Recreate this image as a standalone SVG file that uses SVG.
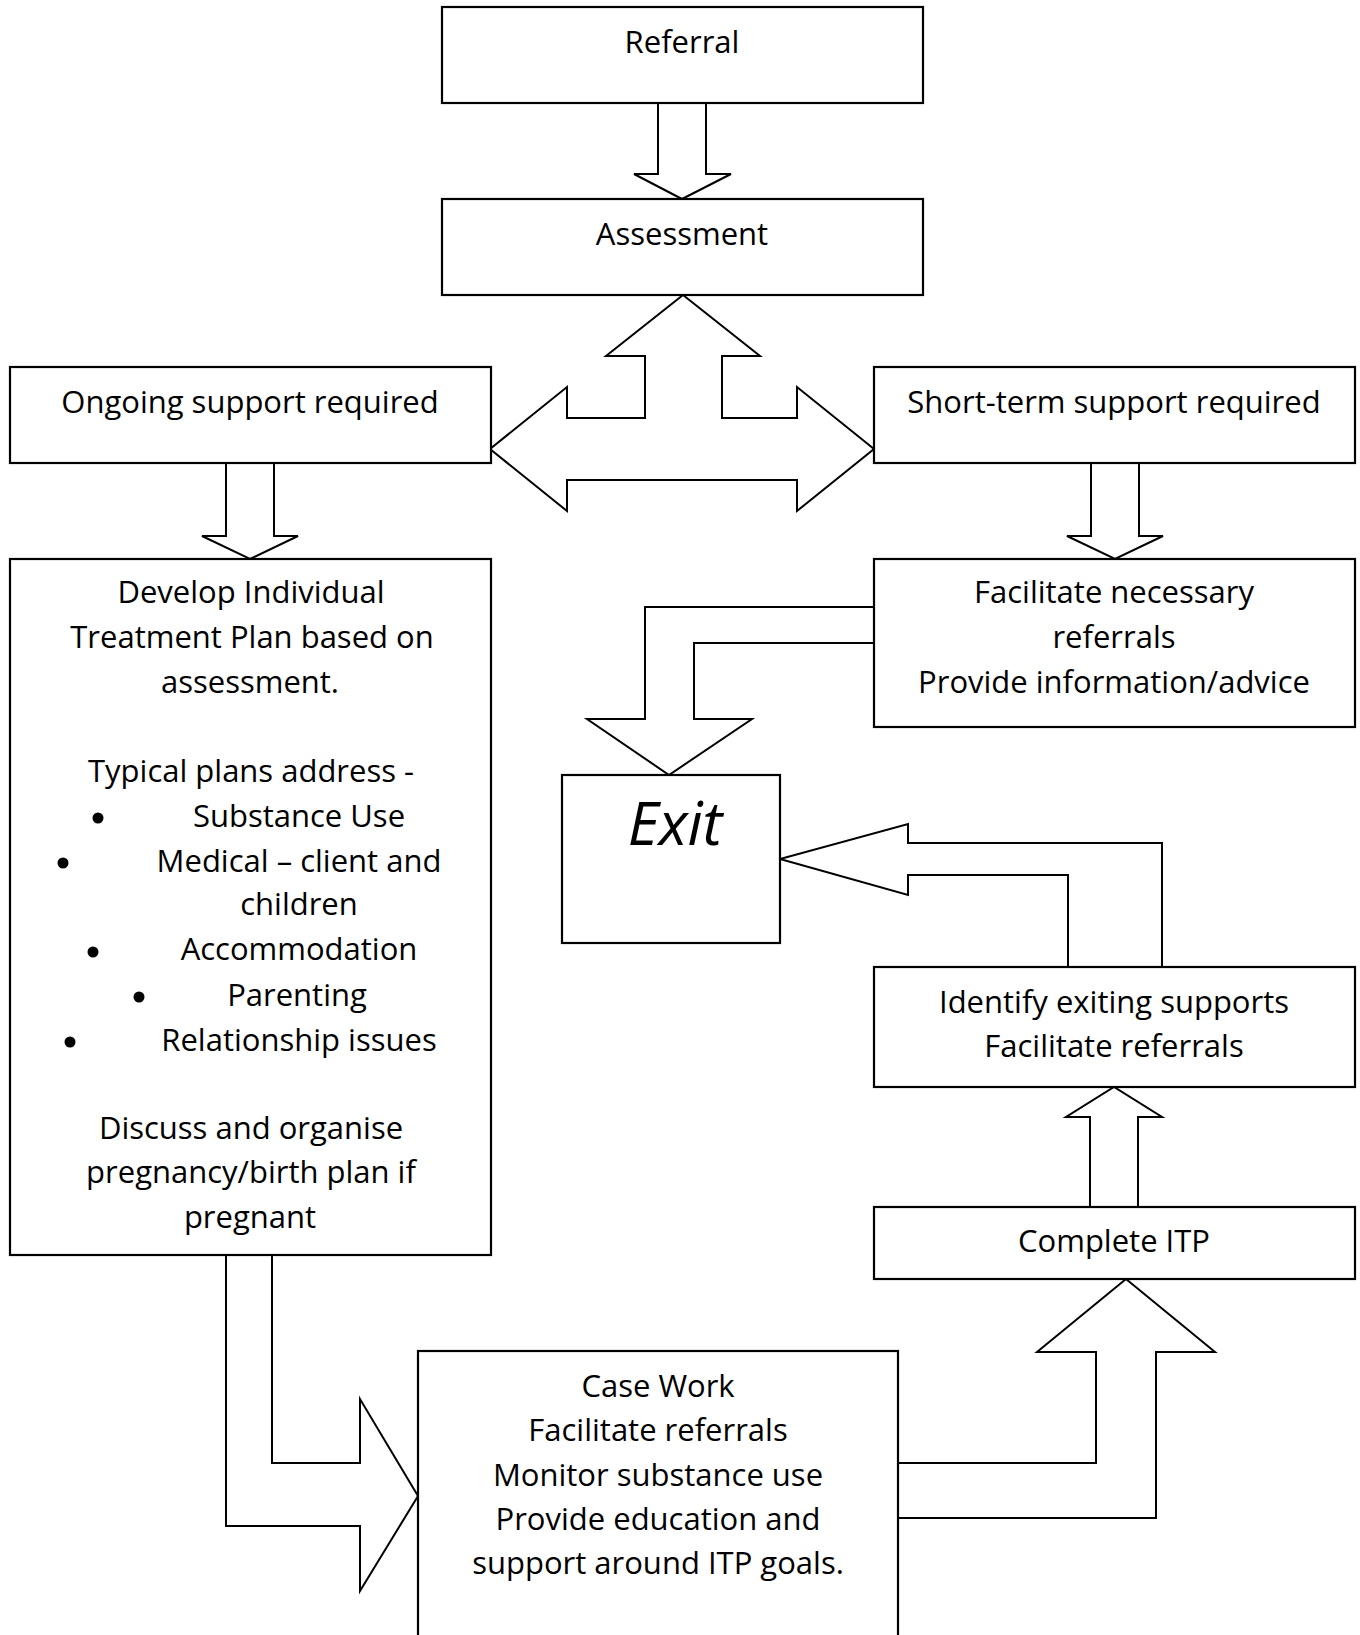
<svg xmlns="http://www.w3.org/2000/svg" width="1360" height="1635" viewBox="0 0 1360 1635">
<style>
.box{fill:#fff;stroke:#000;stroke-width:2.2}
.arr{fill:#fff;stroke:#000;stroke-width:2;stroke-linejoin:miter}
text{font-family:"Open Sans","Noto Sans",sans-serif;font-size:31px;fill:#000;text-anchor:middle}
.exit{font-size:60px;font-style:italic}
</style>
<rect width="1360" height="1635" fill="#fff"/>
<g id="connectors">
<polygon class="arr" points="658,103 706,103 706,174 731,174 682,199 634,174 658,174"/>
<polygon class="arr" points="683,295 760,356 722,356 722,418 797,418 797,387 874,449 797,511 797,480 567,480 567,511 490,449 567,387 567,418 645,418 645,356 606,356"/>
<polygon class="arr" points="226,463 274,463 274,536 298,536 250,559 202,536 226,536"/>
<polygon class="arr" points="1091,463 1139,463 1139,536 1163,536 1115,559 1067,536 1091,536"/>
<polygon class="arr" points="874,607 645,607 645,719 587,719 669,775 752,719 694,719 694,643 874,643"/>
<polygon class="arr" points="1068,967 1068,875 908,875 908,895 780,859 908,824 908,843 1162,843 1162,967"/>
<polygon class="arr" points="1090,1207 1090,1117 1066,1117 1114,1087 1162,1117 1138,1117 1138,1207"/>
<polygon class="arr" points="226,1255 226,1526 360,1526 360,1591 418,1496 360,1399 360,1463 272,1463 272,1255"/>
<polygon class="arr" points="898,1463 1096,1463 1096,1352 1037,1352 1126,1279 1215,1352 1156,1352 1156,1518 898,1518"/>
</g>
<g id="referral">
<rect class="box" x="442" y="7" width="481" height="96"/>
<text x="682" y="53">Referral</text>
</g>
<g id="assessment">
<rect class="box" x="442" y="199" width="481" height="96"/>
<text x="682" y="245">Assessment</text>
</g>
<g id="ongoing">
<rect class="box" x="10" y="367" width="481" height="96"/>
<text x="250" y="413">Ongoing support required</text>
</g>
<g id="shortterm">
<rect class="box" x="874" y="367" width="481" height="96"/>
<text x="1114" y="413">Short-term support required</text>
</g>
<g id="develop">
<rect class="box" x="10" y="559" width="481" height="696"/>
<text x="251" y="603">Develop Individual</text>
<text x="252" y="648">Treatment Plan based on</text>
<text x="250" y="693">assessment.</text>
<text x="251" y="782">Typical plans address -</text>
<circle cx="98" cy="818" r="5.5"/>
<text x="299" y="827">Substance Use</text>
<circle cx="63" cy="863" r="5.5"/>
<text x="299" y="872">Medical – client and</text>
<text x="299" y="915">children</text>
<circle cx="93" cy="952" r="5.5"/>
<text x="299" y="960">Accommodation</text>
<circle cx="139" cy="997" r="5.5"/>
<text x="297" y="1006">Parenting</text>
<circle cx="70" cy="1042" r="5.5"/>
<text x="299" y="1051">Relationship issues</text>
<text x="251" y="1139">Discuss and organise</text>
<text x="251" y="1183">pregnancy/birth plan if</text>
<text x="250" y="1228">pregnant</text>
</g>
<g id="facilitate">
<rect class="box" x="874" y="559" width="481" height="168"/>
<text x="1114" y="603">Facilitate necessary</text>
<text x="1114" y="648">referrals</text>
<text x="1114" y="693">Provide information/advice</text>
</g>
<g id="exit">
<rect class="box" x="562" y="775" width="218" height="168"/>
<text class="exit" x="675" y="845">Exit</text>
</g>
<g id="identify">
<rect class="box" x="874" y="967" width="481" height="120"/>
<text x="1114" y="1013">Identify exiting supports</text>
<text x="1114" y="1057">Facilitate referrals</text>
</g>
<g id="complete">
<rect class="box" x="874" y="1207" width="481" height="72"/>
<text x="1114" y="1252">Complete ITP</text>
</g>
<g id="casework">
<rect class="box" x="418" y="1351" width="480" height="300"/>
<text x="658" y="1397">Case Work</text>
<text x="658" y="1441">Facilitate referrals</text>
<text x="658" y="1486">Monitor substance use</text>
<text x="658" y="1530">Provide education and</text>
<text x="658" y="1574">support around ITP goals.</text>
</g>
</svg>
